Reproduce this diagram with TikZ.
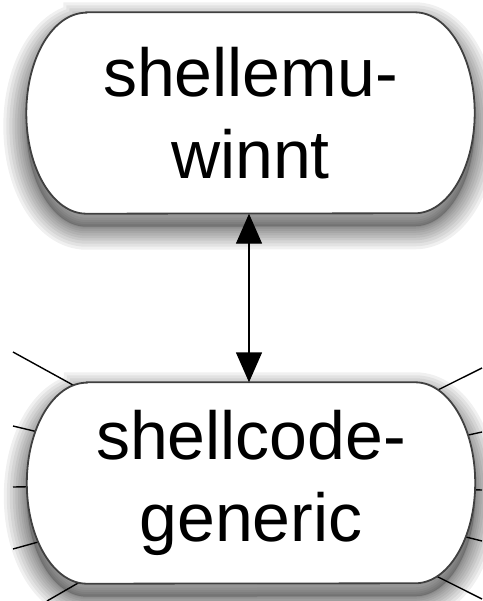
\documentclass[tikz,border=0pt]{standalone}
\usepackage{fontspec}
\setmainfont{Liberation Sans}
\usetikzlibrary{arrows.meta}
\newcommand{\pillpath}[1]{([xshift=60pt]#1.north west) -- ([xshift=-60pt]#1.north east)
  arc[start angle=90,end angle=-90,x radius=60pt,y radius=100.5pt]
  -- ([xshift=60pt]#1.south west)
  arc[start angle=270,end angle=90,x radius=60pt,y radius=100.5pt] -- cycle}
\newcommand{\pillshadow}[1]{%
  \foreach \w in {46,40,34,28,23,18,13,9,5,2}
    \path[draw=black,opacity=0.06,line width=\w pt,
          transform canvas={yshift=-13pt}] \pillpath{#1};
  \path[fill=black,opacity=0.2,transform canvas={yshift=-13pt}] \pillpath{#1};}
\tikzset{
  x=1pt,y=-1pt,
  pillbox/.style={rectangle,draw=none,
    minimum width=448pt,minimum height=201pt,inner sep=0pt,
    align=center,font=\fontsize{68}{82}\selectfont},
  pillline/.style={draw=black!75,line width=1.8pt,fill=white},
  link/.style={draw=black,line width=1.4pt},
  biarrow/.style={link,{Triangle[width=26pt,length=30pt]}-{Triangle[width=26pt,length=30pt]}}
}
\begin{document}
\begin{tikzpicture}
\useasboundingbox (0,0) rectangle (482,601);
\coordinate (l1) at (13,352);
\coordinate (l2) at (13,426);
\coordinate (l3) at (13,487);
\coordinate (l4) at (13,549);
\coordinate (l5) at (47,601);
\coordinate (r1) at (482,368);
\coordinate (r2) at (482,432);
\coordinate (r3) at (482,490);
\coordinate (r4) at (482,541);
\coordinate (r5) at (482,599);
\path (250.5,113) node[pillbox] (top) {};
\path (251,483) node[pillbox] (bot) {};
\pillshadow{top}
\pillshadow{bot}
\foreach \c in {l1,l2,l3,l4,l5,r1,r2,r3,r4,r5}
  \draw[link] (\c) -- (bot.center);
\path[pillline] \pillpath{top};
\path[pillline] \pillpath{bot};
\node[pillbox] at (top.center) {shellemu-\\winnt};
\node[pillbox] at (bot.center) {shellcode-\\generic};
\draw[biarrow] (top.south -| 249,0) -- (bot.north -| 249,0);
\end{tikzpicture}
\end{document}
